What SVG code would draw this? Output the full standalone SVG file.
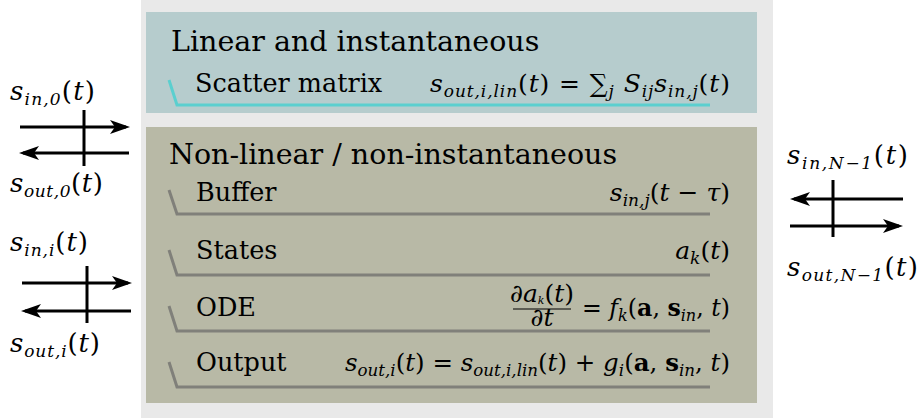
<svg xmlns="http://www.w3.org/2000/svg" width="920" height="418" viewBox="0 0 920 418">
<style>
.t{font-family:"DejaVu Serif","Liberation Serif",serif;fill:#000}
.m{font-family:"DejaVu Serif","Liberation Serif",serif;font-size:25px;fill:#000}
.p{font-size:26px}
.i{font-style:italic}
.sb{font-size:17px;font-style:italic}
.bf{font-weight:bold}
.ul{fill:none;stroke:#80807a;stroke-width:3}
.ar{stroke:#000;stroke-width:3;fill:none}
</style>
<defs>
<marker id="ah" viewBox="0 0 20 14" markerWidth="20" markerHeight="14" refX="16" refY="7" orient="auto" markerUnits="userSpaceOnUse">
<path d="M0,0 L20,7 L0,14 L5,7 Z" fill="#000"/>
</marker>
</defs>
<rect x="141" y="0" width="632" height="418" fill="#e9e9e9"/>
<g id="linear">
<rect x="146" y="12" width="611" height="101" fill="#b6cccd"/>
<text class="t" x="171" y="51" font-size="28.5">Linear and instantaneous</text>
<polyline points="169,80 177,105 710,105" fill="none" stroke="#5bcfcf" stroke-width="3"/>
<text class="t" x="195" y="92" font-size="25.5">Scatter matrix</text>
<text class="m" x="430" y="92" textLength="300" lengthAdjust="spacing"><tspan class="i">s</tspan><tspan class="sb" dy="5">out,i,lin</tspan><tspan dy="-5">(</tspan><tspan class="i">t</tspan>) = ∑<tspan class="sb" dy="5">j</tspan><tspan dy="-5" class="i"> S</tspan><tspan class="sb" dy="5">ij</tspan><tspan class="i" dy="-5">s</tspan><tspan class="sb" dy="5">in,j</tspan><tspan dy="-5">(</tspan><tspan class="i">t</tspan>)</text>
</g>
<g id="nonlinear">
<rect x="146" y="127" width="611" height="276" fill="#b8b9a6"/>
<text class="t" x="169" y="164" font-size="28.5">Non-linear / non-instantaneous</text>
</g>
<g id="buffer">
<polyline class="ul" points="169,190 177,214 710,214"/>
<text class="t" x="196" y="201" font-size="25.5">Buffer</text>
<text class="m" x="730" y="201" text-anchor="end"><tspan class="i">s</tspan><tspan class="sb" dy="5">in,j</tspan><tspan dy="-5">(</tspan><tspan class="i">t</tspan> − <tspan class="i">τ</tspan>)</text>
</g>
<g id="states">
<polyline class="ul" points="169,250 177,275 710,275"/>
<text class="t" x="196" y="259" font-size="25.5">States</text>
<text class="m" x="730" y="259" text-anchor="end"><tspan class="i">a</tspan><tspan class="sb" dy="5">k</tspan><tspan dy="-5">(</tspan><tspan class="i">t</tspan>)</text>
</g>
<g id="ode">
<polyline class="ul" points="169,306 177,331 710,331"/>
<text class="t" x="196" y="316" font-size="25.5">ODE</text>
<text class="m" x="542" y="302" text-anchor="middle" font-size="16">∂<tspan class="i">a</tspan><tspan class="i" font-size="11" dy="2">k</tspan><tspan dy="-2">(</tspan><tspan class="i">t</tspan>)</text>
<line x1="513" y1="309" x2="571" y2="309" stroke="#000" stroke-width="1.2"/>
<text class="m" x="542" y="326" text-anchor="middle" font-size="16">∂<tspan class="i">t</tspan></text>
<text class="m" x="582" y="316" textLength="148" lengthAdjust="spacingAndGlyphs">= <tspan class="i">f</tspan><tspan class="sb" dy="5">k</tspan><tspan dy="-5">(</tspan><tspan class="bf">a</tspan>, <tspan class="bf">s</tspan><tspan class="sb" dy="5">in</tspan><tspan dy="-5">, </tspan><tspan class="i">t</tspan>)</text>
</g>
<g id="output">
<polyline class="ul" points="169,362 177,387 710,387"/>
<text class="t" x="196" y="371" font-size="25.5">Output</text>
<text class="m" x="345" y="371" textLength="385" lengthAdjust="spacingAndGlyphs"><tspan class="i">s</tspan><tspan class="sb" dy="5">out,i</tspan><tspan dy="-5">(</tspan><tspan class="i">t</tspan>) = <tspan class="i">s</tspan><tspan class="sb" dy="5">out,i,lin</tspan><tspan dy="-5">(</tspan><tspan class="i">t</tspan>) + <tspan class="i">g</tspan><tspan class="sb" dy="5">i</tspan><tspan dy="-5">(</tspan><tspan class="bf">a</tspan>, <tspan class="bf">s</tspan><tspan class="sb" dy="5">in</tspan><tspan dy="-5">, </tspan><tspan class="i">t</tspan>)</text>
</g>
<g id="port0">
<text class="m p" x="10" y="100" textLength="85" lengthAdjust="spacing"><tspan class="i">s</tspan><tspan class="sb" dy="5">in,0</tspan><tspan dy="-5">(</tspan><tspan class="i">t</tspan>)</text>
<text class="m p" x="10" y="192" textLength="93" lengthAdjust="spacing"><tspan class="i">s</tspan><tspan class="sb" dy="5">out,0</tspan><tspan dy="-5">(</tspan><tspan class="i">t</tspan>)</text>
<line class="ar" x1="84" y1="110" x2="84" y2="166"/>
</g>
<g id="porti">
<text class="m p" x="10" y="251" textLength="78" lengthAdjust="spacing"><tspan class="i">s</tspan><tspan class="sb" dy="5">in,i</tspan><tspan dy="-5">(</tspan><tspan class="i">t</tspan>)</text>
<text class="m p" x="10" y="352" textLength="90" lengthAdjust="spacing"><tspan class="i">s</tspan><tspan class="sb" dy="5">out,i</tspan><tspan dy="-5">(</tspan><tspan class="i">t</tspan>)</text>
<line class="ar" x1="87" y1="266" x2="87" y2="323"/>
</g>
<g id="portN">
<text class="m p" x="787" y="164" textLength="121" lengthAdjust="spacing"><tspan class="i">s</tspan><tspan class="sb" dy="5">in,N−1</tspan><tspan dy="-5">(</tspan><tspan class="i">t</tspan>)</text>
<text class="m p" x="787" y="276" textLength="131" lengthAdjust="spacing"><tspan class="i">s</tspan><tspan class="sb" dy="5">out,N−1</tspan><tspan dy="-5">(</tspan><tspan class="i">t</tspan>)</text>
<line class="ar" x1="833" y1="180" x2="833" y2="237"/>
</g>
<g id="connectors">
<line class="ar" x1="20" y1="127" x2="126" y2="127" marker-end="url(#ah)"/>
<line class="ar" x1="129" y1="153" x2="23" y2="153" marker-end="url(#ah)"/>
<line class="ar" x1="22" y1="283" x2="128" y2="283" marker-end="url(#ah)"/>
<line class="ar" x1="131" y1="311" x2="25" y2="311" marker-end="url(#ah)"/>
<line class="ar" x1="903" y1="199" x2="794" y2="199" marker-end="url(#ah)"/>
<line class="ar" x1="790" y1="226" x2="899" y2="226" marker-end="url(#ah)"/>
</g>
</svg>
